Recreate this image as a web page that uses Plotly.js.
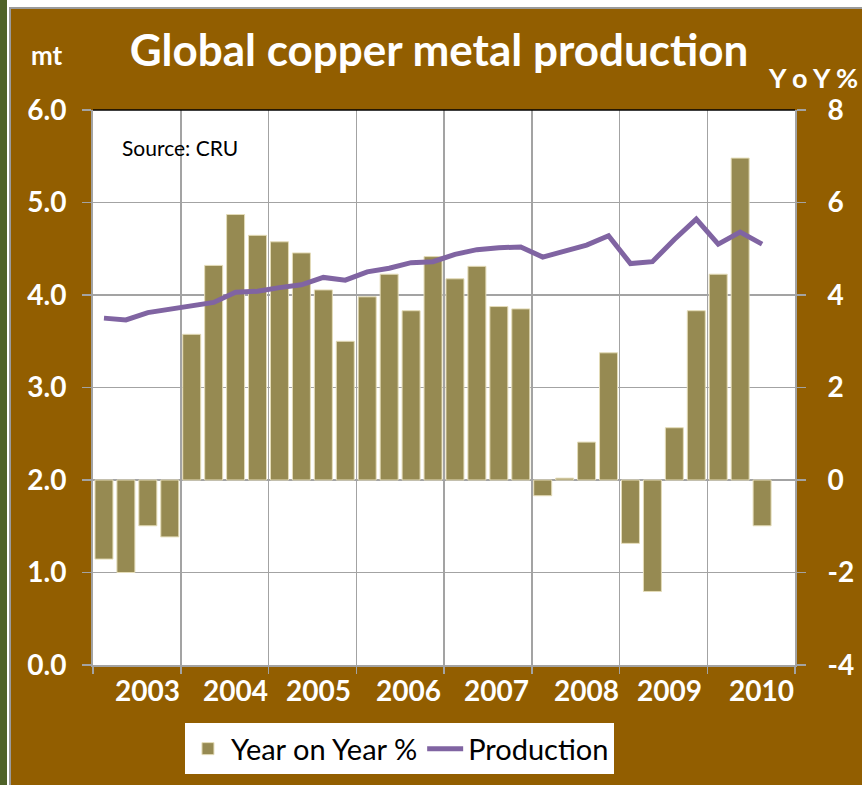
<!DOCTYPE html>
<html>
<head>
<meta charset="utf-8">
<script src="https://cdn.plot.ly/plotly-3.0.1.min.js"></script>
<style>
  html, body { margin: 0; padding: 0; width: 866px; height: 785px; background: #ffffff; overflow: hidden; }
  #green { position: absolute; left: 0; top: 0; width: 7px; height: 785px; background: #4F6228; }
  #frame { position: absolute; left: 9px; top: 7px; width: 853px; height: 778px; background: #9a9a9a; }
  #chart { position: absolute; left: 11px; top: 9px; width: 851px; height: 776px; }
</style>
</head>
<body>
<div id="green"></div>
<div id="frame"></div>
<div id="chart"></div>
<script>
// Quarters from Q1 2003 to Q3 2010
const quarters = [
  "Q1 2003","Q2 2003","Q3 2003","Q4 2003",
  "Q1 2004","Q2 2004","Q3 2004","Q4 2004",
  "Q1 2005","Q2 2005","Q3 2005","Q4 2005",
  "Q1 2006","Q2 2006","Q3 2006","Q4 2006",
  "Q1 2007","Q2 2007","Q3 2007","Q4 2007",
  "Q1 2008","Q2 2008","Q3 2008","Q4 2008",
  "Q1 2009","Q2 2009","Q3 2009","Q4 2009",
  "Q1 2010","Q2 2010","Q3 2010"
];
// Year on Year % (right axis)
const yoy = [
  -1.71, -2.00, -0.99, -1.23,
  3.15, 4.64, 5.74, 5.29,
  5.15, 4.91, 4.11, 3.00,
  3.96, 4.45, 3.66, 4.83,
  4.35, 4.62, 3.75, 3.70,
  -0.34, 0.04, 0.82, 2.75,
  -1.37, -2.41, 1.13, 3.66,
  4.45, 6.96, -0.99
];
// Production, million tonnes (left axis)
const production = [
  3.75, 3.73, 3.81, 3.85,
  3.89, 3.92, 4.03, 4.04,
  4.08, 4.11, 4.19, 4.16,
  4.25, 4.29, 4.35, 4.36,
  4.44, 4.49, 4.51, 4.52,
  4.41, 4.48, 4.54, 4.64,
  4.34, 4.36, 4.60, 4.82,
  4.55, 4.68, 4.55
];
const yearLabels = ["2003","2004","2005","2006","2007","2008","2009","2010"];
const yearLabelAt = [2.0, 6.0, 9.8, 13.9, 17.9, 22.0, 25.8, 29.95];
const rightTicks = [-4, -2, 0, 2, 4, 6, 8];
const rightTickText = ["-4", "-2", "0", "2", "4", "6", "8"];

const xIdx = quarters.map((q, i) => i);
const nSlots = yearLabels.length * 4;
const boundaries = [];
for (let k = 0; k <= yearLabels.length; k++) boundaries.push(k * 4 - 0.5);

const white = '#ffffff';
const grid = '#A3A3A3';
const FONT = 'Lato, "Open Sans", sans-serif';
const lbl = { family: FONT, size: 28, color: white, weight: 700 };

const traces = [
  {
    type: 'bar', name: 'Year on Year %', x: xIdx, y: yoy,
    xaxis: 'x', yaxis: 'y',
    marker: { color: '#968A52', line: { color: '#E4DCB8', width: 1 } }
  },
  {
    type: 'scatter', mode: 'lines', name: 'Production', x: xIdx, y: production,
    xaxis: 'x', yaxis: 'y2',
    line: { color: '#8064A2', width: 5 }
  }
];

const annotations = yearLabels.map((t, i) => ({
  text: t, xref: 'x', yref: 'paper', x: yearLabelAt[i], y: -0.045,
  xanchor: 'center', yanchor: 'middle', showarrow: false, font: lbl
}));
annotations.push(
  { text: 'mt', xref: 'paper', yref: 'paper', x: -0.066, y: 1.099, xanchor: 'center', yanchor: 'middle',
    showarrow: false, font: { family: FONT, size: 26, color: white, weight: 700 } },
  { text: 'Y o Y %', xref: 'paper', yref: 'paper', x: 1.093, y: 1.058, xanchor: 'right', yanchor: 'middle',
    showarrow: false, font: { family: FONT, size: 27, color: white, weight: 700 } },
  { text: 'Source: CRU', xref: 'paper', yref: 'paper', x: 0.039, y: 0.933, xanchor: 'left', yanchor: 'middle',
    showarrow: false, font: { family: FONT, size: 21, color: '#000000' } }
);

const layout = {
  width: 851, height: 776,
  margin: { l: 82, r: 67, t: 101, b: 120, autoexpand: false },
  paper_bgcolor: '#925E00',
  plot_bgcolor: '#ffffff',
  bargap: 0.18,
  showlegend: true,
  title: {
    text: 'Global copper metal production',
    font: { family: FONT, size: 44, color: white, weight: 700 },
    x: 0.503, xanchor: 'center', xref: 'container',
    y: 0.947, yanchor: 'middle', yref: 'container'
  },
  xaxis: {
    range: [-0.5, nSlots - 0.5],
    tickmode: 'array', tickvals: boundaries, ticktext: boundaries.map(() => ''),
    showgrid: true, gridcolor: grid, gridwidth: 1.5,
    ticks: 'outside', ticklen: 7, tickcolor: grid, tickwidth: 1.5,
    showline: true, linecolor: grid, linewidth: 2,
    zeroline: false, fixedrange: true
  },
  yaxis: {
    side: 'right', range: [-4, 8], tickmode: 'array', tickvals: rightTicks, ticktext: rightTickText,
    showgrid: true, gridcolor: grid, gridwidth: 1.5,
    ticks: 'outside', ticklen: 9, tickcolor: grid, tickwidth: 1.5,
    showline: true, linecolor: grid, linewidth: 2,
    zeroline: false, tickfont: lbl, ticklabelstandoff: 16
  },
  yaxis2: {
    overlaying: 'y', side: 'left', range: [0, 6], tickmode: 'linear', tick0: 0, dtick: 1,
    tickformat: '.1f', showgrid: false,
    ticks: 'outside', ticklen: 9, tickcolor: grid, tickwidth: 1.5,
    showline: true, linecolor: grid, linewidth: 2,
    zeroline: false, tickfont: lbl, ticklabelstandoff: 10
  },
  legend: {
    orientation: 'h', x: 0.131, xanchor: 'left', y: -0.105, yanchor: 'top',
    bgcolor: '#ffffff', font: { family: FONT, size: 29, color: '#000000' },
    traceorder: 'normal', itemwidth: 36
  },
  shapes: [
    { type: 'line', xref: 'paper', yref: 'paper', x0: 0, x1: 1, y0: 1, y1: 1,
      line: { color: '#000000', width: 1.5 } }
  ],
  annotations: annotations
};

Plotly.newPlot('chart', traces, layout, { staticPlot: true, displayModeBar: false });
</script>
</body>
</html>
